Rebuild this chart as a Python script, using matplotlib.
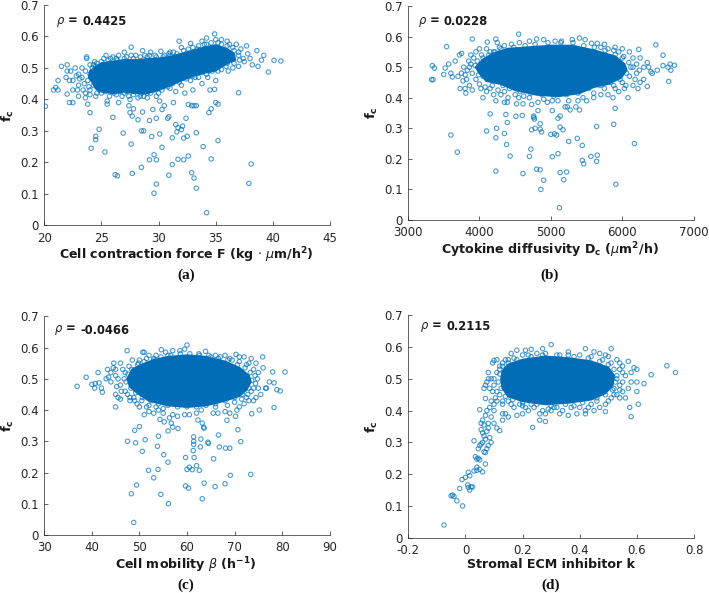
import matplotlib
matplotlib.use("Agg")
import matplotlib.pyplot as plt

W, H = 709, 593
plt.rcParams['font.family'] = ['DejaVu Sans']
plt.rcParams['mathtext.fontset'] = 'dejavusans'

# Rings: (x, fc)
a_pts = [(20.1,.378),(24.1,.245),(24.5,.272),(24.5,.283),(24.8,.305),(25.3,.233),(26.2,.161),(26.4,.157),(27.7,.165),(28.5,.184),(26.9,.293),(27.6,.258),(28.5,.3),(28.7,.3),(29.4,.282),(30.1,.29),(30.3,.248),(29.2,.208),(29.6,.224),(29.8,.208),(29.6,.102),(29.8,.131),(30.9,.159),(31.2,.193),(31.7,.21),(32.2,.208),(32.6,.22),(32.9,.167),(33.1,.15),(33.3,.118),(34.2,.04),(34.6,.211),(35.2,.269),(33.9,.25),(33.3,.294),(32.5,.283),(32.2,.277),(31.2,.278),(31.6,.297),(31.7,.31),(31.5,.32),(32.0,.304),(32.1,.315),(32.4,.34),(30.8,.34),(30.9,.345),(29.8,.34),(29.2,.333),(28.6,.36),(28.2,.335),(27.7,.347),(27.5,.358),(26.0,.343),(24.0,.358),(23.8,.385),(27.8,.37),(27.4,.38),(29.5,.368),(30.3,.368),(31.3,.39),(30.5,.38),(32.6,.384),(32.9,.38),(33.1,.38),(33.3,.38),(34.4,.358),(34.6,.37),(35,.39),(35.2,.385),(37,.421),(37.9,.133),(38.1,.195),(39.6,.487),(40.1,.524),(40.7,.522),
(23.7,.535),(23.7,.53),(25.2,.53),(25.4,.54),(26,.535),(26.5,.54),(27,.55),(27.6,.566),(28.6,.555),(29.3,.55),(30.2,.553),(31,.55),(31.8,.585),(32.8,.578),(33.8,.585),(34.2,.595),(34.9,.608),(35.5,.59),(36,.585),(36.8,.575),(37.7,.57),(38.6,.555),(39.2,.54),(39,.525),(38.7,.505),(38.2,.51),(37.5,.52),(37,.505),(36.1,.49),(35,.46),(34.5,.43),(34.9,.432),(34.3,.47),(33.8,.45),(33,.43),(32.3,.42),(31.5,.425),(31,.435),(30.1,.395),(29.8,.41),(29,.405),(28.2,.405),(27.5,.4),(26.5,.39),(25.5,.385),(25.5,.395),(24.5,.41),(23.6,.405),(23.6,.42),(22.5,.39),(22.2,.39),(22,.417),(22.5,.43),(21.2,.46),(21.5,.505),(22,.51),(21.9,.47),(22.3,.49),(22.8,.475),(23.3,.5),(23,.445),(23.5,.45),(21,.438),(20.8,.43),(21.2,.43),
(24,.51),(24.4,.52),(24.8,.43),(25,.42),(25.7,.41),(26.3,.415),(27,.42),(27.8,.415),(28.5,.42),(29.3,.42),(30.3,.43),(31.2,.45),(32,.445),(32.8,.46),(33.5,.47),(34.2,.48),(35.5,.495),(36.5,.5),(37.4,.53),(37.8,.545),(36.5,.565),(35.2,.58),(34,.575),(33,.565),(32,.565),(31.3,.55),(30.5,.54),(29.7,.54),(28.8,.54),(28,.54),(27.2,.535),(26.3,.53),(22.5,.46),(23,.48),(23.3,.47),(23.6,.49),(22,.49),(22.2,.46),(23,.41),(24,.43),(24.3,.445),
(23.8,.46),(24,.48),(24.2,.5),(24.6,.515),(25.2,.435),(25.9,.425),(26.8,.41),(27.4,.41),(28.7,.41),(30,.42),(30.8,.44),(31.8,.455),(33.2,.47),(34.7,.49),(36,.515),(37,.54),(36.2,.575),(35,.59),(33.5,.57),(30.9,.545),(29.2,.54),(27.6,.54),(25.8,.53),(37.2,.56),(38,.53),
(23.9,.44),(24.1,.47),(24.3,.51),(24.6,.42),(25.3,.425),(25.6,.43),(26.1,.42),(26.6,.425),(27.2,.425),(27.9,.425),(28.4,.41),(29,.42),(29.6,.43),(30.4,.44),(31,.45),(31.6,.46),(32.4,.465),(33,.475),(33.8,.485),(34.4,.49),(35.2,.49),(35.9,.505),(36.6,.515),(37.1,.525),(37,.55),(36.6,.555),(36,.57),(35.5,.575),(34.6,.58),(34.2,.575),(33.4,.56),(32.6,.56),(32.2,.555),(31.6,.545),(31,.54),(30.4,.535),(29.8,.535),(29,.535),(28.4,.535),(27.8,.53),(27,.53),(26.4,.525),(25.6,.525),(25,.52),(24.5,.505),(22.7,.5),(23.1,.465),(22.9,.43),(23.4,.43),(24,.415)]
a_blob = [(24,.49),(25,.515),(26,.52),(27,.525),(28,.525),(29,.528),(30,.53),(31,.535),(32,.545),(33,.555),(34,.565),(35,.572),(36,.56),(36.6,.545),(36.7,.525),(36,.515),(35,.492),(34,.485),(33,.475),(32,.46),(31,.445),(30,.43),(29,.42),(28,.42),(27,.425),(26,.42),(25,.425),(24.5,.435),(24.2,.455),(23.9,.47)]

b_pts = [(3600,.278),(3690,.222),(4100,.291),(4230,.269),(4240,.3),(4230,.16),(4150,.347),(4370,.345),(4390,.319),(4350,.283),(4380,.247),(4430,.209),(4510,.339),(4600,.342),(4610,.152),(4700,.208),(4720,.232),(4730,.295),(4760,.34),(4760,.335),(4770,.33),(4780,.3),(4820,.358),(4850,.315),(4850,.297),(4870,.288),(4800,.166),(4850,.164),(4860,.1),(4900,.13),(5000,.28),(5020,.358),(5020,.207),(5050,.282),(5080,.278),(5100,.217),(5100,.333),(5130,.34),(5130,.304),(5130,.155),(5170,.295),(5120,.04),(5180,.132),(5220,.157),(5250,.257),(5370,.267),(5440,.244),(5440,.195),(5460,.184),(5560,.208),(5640,.192),(5650,.212),(5640,.306),(5880,.313),(5900,.365),(5910,.117),(6170,.25),
(4050,.4),(4230,.39),(4350,.385),(4390,.385),(4520,.38),(4610,.38),(4730,.378),(4820,.385),(4950,.385),(5020,.39),(5200,.37),(5230,.37),(5270,.36),(5350,.37),(5400,.36),(5380,.39),(5500,.39),(6080,.4),(5870,.4),
(3330,.459),(3350,.459),(3340,.505),(3370,.497),(3500,.476),(3520,.497),(3570,.51),(3600,.48),(3620,.468),(3660,.52),(3540,.567),(3900,.592),(4110,.582),(4230,.592),(4550,.608),(4250,.58),(6470,.573),(6570,.539),(6230,.558),(6490,.49),(6570,.505),(6640,.5),(6650,.453),(6670,.51),(6680,.49),(6730,.506),(6350,.437),(6370,.5),(6400,.485),(6420,.48),(6350,.515),
(4800,.592),(4900,.59),(5060,.585),(5150,.585),(5300,.59),(5400,.595),(5480,.59),(5570,.578),(5650,.578),(5750,.575),(5900,.565),(6000,.56),(4700,.585),(4560,.58),(3750,.545),(3720,.54),
(3700,.47),(3730,.43),(3800,.43),(3810,.415),(3900,.425),(3780,.5),(3800,.475),(3850,.52),(3880,.54),(3950,.55),(4000,.56),(4100,.56),(4200,.55),(4020,.43),(4100,.42),(4200,.41),(4300,.41),(4400,.4),(4550,.4),(4700,.4),(4900,.395),(5100,.39),(5250,.39),(5450,.4),(5600,.4),(5700,.41),(5800,.41),(5950,.42),(6030,.43),(6150,.44),(6220,.43),(6250,.45),(6300,.46),(6200,.48),(6150,.53),(6250,.53),(6300,.5),(6100,.55),(5950,.55),(5800,.56),(6050,.44),(5900,.43),(4350,.57),(4450,.575),(3950,.46),(4000,.5),(4050,.47),(6100,.47),(6120,.5),
(3750,.48),(3770,.455),(3820,.46),(3830,.49),(3860,.44),(3880,.51),(3920,.53),(4000,.445),(4080,.435),(4150,.43),(4260,.425),(4350,.42),(4500,.41),(4620,.405),(5600,.415),(5750,.43),(5880,.44),(6000,.45),(6180,.46),(6200,.51),(6240,.49),(6020,.535),(5880,.555),(5700,.565),(4300,.56),(4150,.55),(4030,.54),
(3860,.5),(3900,.48),(3940,.505),(3970,.52),(3990,.475),(4050,.53),(4110,.46),(4130,.54),(4180,.44),(4220,.55),(4280,.565),(4330,.44),(4420,.43),(4480,.565),(4570,.42),(4640,.57),(4720,.415),(4780,.575),(4870,.41),(4960,.58),(5040,.405),(5140,.58),(5220,.41),(5310,.58),(5380,.415),(5460,.57),(5530,.43),(5610,.565),(5690,.44),(5760,.555),(5830,.45),(5900,.54),(5970,.46),(6000,.53),(6060,.48),(6090,.515),(6150,.5)]
b_blob = [(3950,.50),(4050,.525),(4200,.545),(4400,.56),(4700,.565),(5000,.57),(5300,.57),(5600,.555),(5900,.535),(6030,.51),(6060,.49),(5980,.465),(5800,.445),(5600,.435),(5400,.415),(5100,.405),(4800,.41),(4500,.425),(4300,.445),(4100,.455),(4000,.48)]

c_pts = [(48.8,.04),(48.3,.132),(49.4,.16),(54.5,.13),(56.1,.1),(53,.183),(51.9,.207),(53.9,.21),(56,.233),(55.1,.257),(50.6,.268),(47.5,.3),(49.2,.295),(51.2,.305),(49,.335),(50,.347),(53.8,.284),(54,.316),(56,.333),(57,.345),(58.1,.341),(56.7,.358),(54.3,.37),(55.2,.362),(56.3,.375),(59.7,.248),(60,.21),(60.5,.217),(61.1,.209),(61.5,.248),(62,.222),(62.6,.207),(59.7,.157),(60.3,.15),(63.2,.116),(63.6,.166),(65.9,.155),(68,.164),(69.1,.191),(73.4,.194),(65.6,.244),(66.8,.282),(68.1,.278),(69,.278),(71.3,.299),(70.7,.337),(66.6,.32),(64.4,.297),(64.5,.293),(62.8,.282),(61.3,.27),(61.4,.29),(61.4,.3),(61.4,.314),(62.9,.307),(63.2,.358),(63.5,.345),(63.6,.342),(62.3,.368),(68.4,.367),(70.2,.38),(73.6,.388),(75.2,.4),(78.3,.408),
(36.9,.476),(38.8,.505),(40,.482),(40.6,.47),(40.7,.485),(41.3,.52),(41.5,.487),(42,.47),(42.2,.457),(43,.5),(43.3,.53),(44,.49),(44.6,.55),(45,.45),(45,.41),(45.5,.44),(46,.435),(45,.53),(47.4,.59),(50.7,.585),(51,.585),
(80.6,.522),(79.6,.461),(78.9,.465),(78.3,.487),(78,.522),(77.3,.49),(76.7,.47),(75.9,.57),(76,.535),(76.5,.47),(75.5,.45),(74,.43),(73.5,.565),(72,.57),(70.3,.578),
(60,.608),(59.5,.595),(58.5,.59),(57,.59),(54.6,.593),(63.9,.588),(62.5,.58),(66,.575),(68,.575),
(46,.55),(47,.46),(48,.44),(48,.43),(49,.43),(50,.41),(51,.385),(52,.395),(53,.39),(54,.4),(55,.39),(57,.385),(58,.38),(59.5,.385),(60.5,.385),(62,.39),(63,.4),(65.5,.39),(66.5,.39),(68,.395),(69,.39),(70.5,.4),(71,.41),(72,.42),(73,.43),(74.5,.44),(75,.47),(74.8,.5),(75,.52),(74.5,.55),(73,.55),(71,.57),(69.5,.56),(67,.57),(65,.57),(53,.565),(52,.575),(50,.56),(48.5,.56),(46.5,.53),(45.5,.5),(46,.48),(47,.52),(44,.52),(44.5,.535),(43.5,.505),(72.5,.44),(73.5,.46),(49.5,.42),(51.5,.41),(56,.575),(55.5,.585),
(45,.51),(45.2,.475),(46.2,.46),(46.8,.5),(47.5,.45),(47.8,.54),(48.8,.44),(49.8,.55),(50.5,.43),(52,.415),(53.5,.41),(55,.405),(66,.41),(68.5,.415),(70,.425),(71.5,.435),(72.8,.45),(74,.47),(74.4,.485),(74.3,.51),(74,.53),(72.5,.545),(71,.555),(69,.565),(51.5,.565),(53.5,.575),
(47.2,.49),(47.6,.515),(48.2,.47),(48.4,.53),(49.2,.455),(49.6,.545),(50.6,.44),(51,.555),(52.5,.43),(53,.56),(54,.42),(54.5,.57),(56,.415),(56.6,.575),(58,.41),(58.6,.58),(60,.41),(60.6,.58),(62,.41),(62.6,.575),(64,.415),(64.6,.575),(66,.42),(66.6,.565),(68,.43),(68.6,.56),(70,.44),(70.6,.545),(71.6,.45),(72.2,.535),(73,.47),(73.3,.52),(73.6,.495)]
c_blob = [(47.5,.50),(48.5,.53),(50.5,.545),(53,.56),(56,.57),(60,.575),(64,.57),(68,.555),(71,.535),(73,.51),(73.4,.49),(72.5,.465),(71,.445),(68,.43),(64,.415),(60,.41),(56,.415),(52,.43),(49.5,.455),(48,.475)]

d_pts = [(-.075,.04),(-.05,.132),(-.045,.134),(-.04,.13),(-.03,.116),(-.02,.155),(-.01,.1),(-.012,.183),(0,.19),(.01,.206),(.015,.195),(.008,.166),(.01,.158),(.015,.15),(.02,.16),(.025,.16),(.03,.21),(.04,.212),(.04,.222),(.05,.215),(.06,.207),(.07,.232),(.035,.255),(.04,.248),(.045,.25),(.05,.245),(.03,.305),(.045,.28),(.05,.29),(.055,.295),(.06,.3),(.065,.27),(.07,.268),(.075,.28),(.08,.29),(.09,.3),(.055,.34),(.06,.33),(.065,.32),(.07,.31),(.075,.335),(.08,.345),(.085,.315),(.065,.355),(.055,.36),(.06,.37),(.05,.403),(.08,.36),(.09,.38),(.1,.36),(.11,.345),(.12,.337),(.07,.385),(.075,.4),(.085,.41),(.09,.43),(.1,.4),(.1,.42),(.105,.44),(.07,.438),(.065,.47),(.07,.48),(.075,.49),(.08,.52),(.08,.5),(.09,.5),(.095,.46),(.095,.55),(.1,.558),(.11,.56),(.13,.39),(.13,.37),(.14,.39),(.15,.38),
(.18,.385),(.2,.39),(.22,.4),(.235,.347),(.26,.37),(.28,.366),(.28,.39),(.3,.4),(.33,.39),(.36,.385),(.39,.39),(.42,.39),(.42,.4),(.45,.4),(.49,.397),(.54,.44),(.56,.44),(.575,.41),(.58,.381),(.6,.46),(.605,.42),(.6,.49),(.625,.485),(.65,.513),(.705,.541),(.735,.52),(.6,.53),(.59,.535),(.57,.555),(.51,.595),(.45,.585),(.42,.595),(.3,.608),(.27,.595),(.23,.593),(.21,.59),(.18,.59),(.16,.58),(.36,.585),(.5,.57),(.54,.55),
(.11,.43),(.13,.42),(.15,.43),(.17,.41),(.19,.42),(.21,.41),(.24,.41),(.26,.39),(.27,.4),(.31,.41),(.34,.4),(.37,.41),(.4,.41),(.44,.42),(.47,.41),(.49,.42),(.51,.44),(.53,.45),(.55,.46),(.57,.47),(.58,.49),(.56,.51),(.58,.52),(.55,.54),(.53,.56),(.49,.575),(.47,.58),(.4,.575),(.33,.575),(.25,.58),(.2,.575),(.15,.56),(.13,.55),(.12,.54),(.11,.52),(.1,.5),(.1,.48),(.11,.46),(.085,.47),(.53,.5),(.54,.48),(.52,.53),(.52,.47),
(.12,.45),(.13,.43),(.16,.42),(.2,.415),(.23,.42),(.29,.405),(.32,.41),(.38,.415),(.43,.41),(.46,.43),(.5,.43),(.52,.45),(.54,.465),(.55,.49),(.55,.52),(.54,.53),(.51,.55),(.48,.56),(.44,.57),(.36,.575),(.28,.58),(.22,.575),(.17,.565),(.14,.56),(.12,.53),
(.115,.49),(.12,.515),(.125,.47),(.13,.54),(.14,.445),(.15,.55),(.165,.435),(.18,.56),(.2,.425),(.23,.57),(.25,.42),(.27,.575),(.3,.415),(.32,.575),(.35,.42),(.38,.57),(.41,.425),(.43,.565),(.46,.44),(.47,.555),(.49,.45),(.5,.545),(.515,.465),(.525,.49),(.53,.51)]
d_blob = [(.125,.5),(.13,.525),(.15,.545),(.2,.56),(.28,.57),(.36,.565),(.44,.555),(.5,.535),(.52,.51),(.515,.48),(.49,.455),(.44,.435),(.36,.425),(.28,.42),(.2,.43),(.15,.445),(.13,.47)]

xlabels = [r'Cell contraction force F (kg $\cdot$ $\mu$m/h$\mathbf{^2}$)',
           r'Cytokine diffusivity D$\mathbf{_c}$ ($\mu$m$\mathbf{^2}$/h)',
           r'Cell mobility $\beta$ (h$\mathbf{^{-1}}$)',
           'Stromal ECM inhibitor k']
rho_texts = ['0.4425', '0.0228', '-0.0466', '0.2115']
captions = ['(a)', '(b)', '(c)', '(d)']
xticks = [[20,25,30,35,40,45], [3000,4000,5000,6000,7000],
          [30,40,50,60,70,80,90], [-0.2,0,0.2,0.4,0.6,0.8]]
xticklabels = [['20','25','30','35','40','45'], ['3000','4000','5000','6000','7000'],
               ['30','40','50','60','70','80','90'], ['-0.2','0','0.2','0.4','0.6','0.8']]
yticks = [0,0.1,0.2,0.3,0.4,0.5,0.6,0.7]
yticklabels = ['0','0.1','0.2','0.3','0.4','0.5','0.6','0.7']
boxes = [(44.3,330,5,225.3),(408,693.7,6,220),(44.3,329.7,316.3,535),(408.3,694,315.3,537.7)]
points = [a_pts,b_pts,c_pts,d_pts]
blobs = [a_blob,b_blob,c_blob,d_blob]
label_y = [255,250,565,565]
label_x = [186,550,186,551]
cap_y = [275,275,585,585]
rho_pos = [(.04,.133,.924),(.035,.126,.927),(.034,.125,.937),(.04,.132,.949)]

BLUE = '#0072BD'; DARK = '#262626'
fig = plt.figure(figsize=(W/100,H/100),dpi=100)
for i in range(4):
    l,r,t,b = boxes[i]
    ax = fig.add_axes([l/W,1-b/H,(r-l)/W,(b-t)/H])
    ax.set_xlim(xticks[i][0],xticks[i][-1]); ax.set_ylim(0,0.7)
    ax.fill(*zip(*blobs[i]),color='#006DB6',linewidth=1.5,zorder=2)
    ax.scatter(*zip(*points[i]),s=10,facecolors='none',edgecolors=BLUE,alpha=0.7,linewidths=0.8,zorder=3)
    ax.set_xticks(xticks[i]); ax.set_xticklabels(xticklabels[i])
    ax.set_yticks(yticks); ax.set_yticklabels(yticklabels)
    ax.tick_params(axis='both',direction='in',length=3,width=0.5,color=DARK,labelcolor=DARK,labelsize=8.5)
    ax.tick_params(axis='x',pad=4.5)
    ax.tick_params(axis='y',pad=4)
    for s in ('top','right'): ax.spines[s].set_visible(False)
    for s in ('left','bottom'): ax.spines[s].set_linewidth(0.5); ax.spines[s].set_color(DARK)
    ax.patch.set_alpha(0)
    fig.text(label_x[i]/W,1-label_y[i]/H,xlabels[i],ha='center',va='center',fontsize=9.1,fontweight='bold',color='#1a1a1a')
    fig.text((l-36)/W,1-(t+b)/2/H,r'f$\mathbf{_c}$',rotation=90,ha='center',va='center',fontsize=9.5,fontweight='bold',color='#1a1a1a')
    x0,x1,yy = rho_pos[i]
    ax.text(x0,yy,r'$\rho$ =',transform=ax.transAxes,fontsize=8.3,fontweight='bold',color='#1a1a1a',va='center')
    ax.text(x1,yy,rho_texts[i],transform=ax.transAxes,fontsize=8.3,fontweight='bold',color='#1a1a1a',va='center')
    fig.text(label_x[i]/W,1-cap_y[i]/H,captions[i],ha='center',va='center',fontsize=11,fontweight='bold',family='Liberation Serif',color='#111111')
fig.savefig('out.png',dpi=100)
